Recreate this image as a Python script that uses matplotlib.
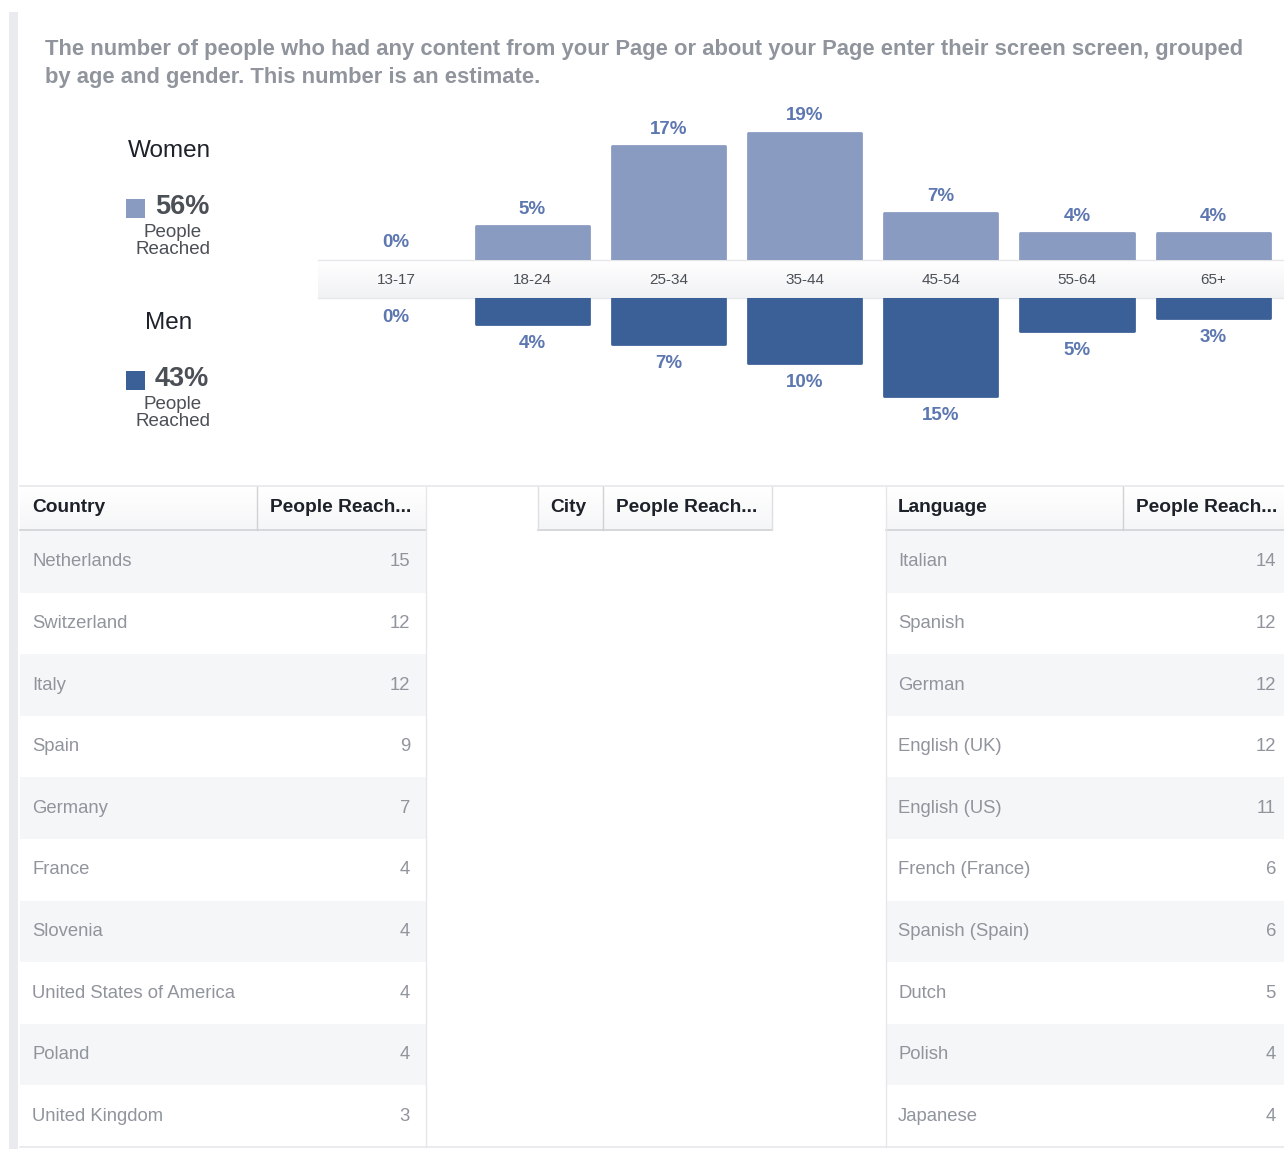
import numpy as np
import matplotlib
matplotlib.use("Agg")
import matplotlib.pyplot as plt
from matplotlib.patches import Rectangle

plt.rcParams['font.family'] = ['Liberation Sans', 'DejaVu Sans']

# data
ages = ['13-17', '18-24', '25-34', '35-44', '45-54', '55-64', '65+']
women = [0, 5, 17, 19, 7, 4, 4]
men = [0, 4, 7, 10, 15, 5, 3]
women_total = 56
men_total = 43

countries = ['Netherlands', 'Switzerland', 'Italy', 'Spain', 'Germany', 'France',
             'Slovenia', 'United States of America', 'Poland', 'United Kingdom']
country_reach = [15, 12, 12, 9, 7, 4, 4, 4, 4, 3]

languages = ['Italian', 'Spanish', 'German', 'English (UK)', 'English (US)',
             'French (France)', 'Spanish (Spain)', 'Dutch', 'Polish', 'Japanese']
language_reach = [14, 12, 12, 12, 11, 6, 6, 5, 4, 4]

W, H = 1284, 1149
C_WOMEN = '#8a9bc2'
C_MEN = '#3b6097'
C_LABEL = '#5d77b0'
C_DARK = '#1d2129'
C_GREY = '#4b4f56'
C_LIGHT = '#90949c'

fig = plt.figure(figsize=(W / 100, H / 100), dpi=100)
bg = fig.add_axes([0, 0, 1, 1])
bg.set_xlim(0, W)
bg.set_ylim(H, 0)
bg.axis('off')

# left grey strip
bg.add_patch(Rectangle((9, 12), 9, H, color='#e9ebee', lw=0))

# description
bg.text(45, 49, "The number of people who had any content from your Page or about your Page enter their screen screen, grouped",
        fontsize=15.8, fontweight='bold', color=C_LIGHT, va='center')
bg.text(45, 77, "by age and gender. This number is an estimate.",
        fontsize=15.8, fontweight='bold', color=C_LIGHT, va='center')

# legend
bg.text(169, 151, 'Women', fontsize=17.5, color=C_DARK, ha='center', va='center')
bg.add_patch(Rectangle((126, 199), 19, 19, color=C_WOMEN, lw=0))
bg.text(155, 207, f'{women_total}%', fontsize=19.5, fontweight='bold', color=C_GREY, va='center')
bg.text(173, 241, 'People\nReached', fontsize=13.5, color=C_GREY, ha='center', va='center', linespacing=1.0)
bg.text(169, 323, 'Men', fontsize=17.5, color=C_DARK, ha='center', va='center')
bg.add_patch(Rectangle((126, 371), 19, 19, color=C_MEN, lw=0))
bg.text(155, 379, f'{men_total}%', fontsize=19.5, fontweight='bold', color=C_GREY, va='center')
bg.text(173, 413, 'People\nReached', fontsize=13.5, color=C_GREY, ha='center', va='center', linespacing=1.0)

# age band
grad = np.linspace(0, 1, 50).reshape(-1, 1)
bg.imshow(grad, extent=(318, W, 298, 260), cmap=matplotlib.colors.LinearSegmentedColormap.from_list(
    'band', ['#ffffff', '#f1f2f4']), aspect='auto', zorder=1)
bg.plot([318, W], [260, 260], color='#e6e7ea', lw=1)
bg.plot([318, W], [298, 298], color='#e6e7ea', lw=1)

# bar axes
px_per = 6.7
x_left, x_right = 318, W
step, c0 = 136.2, 396
xlim = ((x_left - c0) / step, (x_right - c0) / step)
top_ax = fig.add_axes([x_left / W, (H - 260) / H, (x_right - x_left) / W, 165 / H])
bot_ax = fig.add_axes([x_left / W, (H - 470) / H, (x_right - x_left) / W, 172 / H])
for ax in (top_ax, bot_ax):
    ax.set_xlim(*xlim)
    ax.axis('off')
    ax.patch.set_alpha(0)
top_ax.set_ylim(0, 165 / px_per)
bot_ax.set_ylim(172 / 6.5, 0)

x = np.arange(len(ages))
lw_w = [0 if v == 0 else 2 for v in women]
lw_m = [0 if v == 0 else 2 for v in men]
bw = top_ax.bar(x, women, width=0.83, color=C_WOMEN, edgecolor=C_WOMEN, linewidth=lw_w)
bm = bot_ax.bar(x, men, width=0.83, color=C_MEN, edgecolor=C_MEN, linewidth=lw_m)
for p in list(bw) + list(bm):
    p.set_joinstyle('round')

for i, v in enumerate(women):
    top_ax.annotate(f'{v}%', (i, v), xytext=(0, 9), textcoords='offset points',
                    ha='center', va='baseline', fontsize=13.5, fontweight='bold',
                    color=C_LABEL, annotation_clip=False)
for i, v in enumerate(men):
    bot_ax.annotate(f'{v}%', (i, v), xytext=(0, -8), textcoords='offset points',
                    ha='center', va='top', fontsize=13.5, fontweight='bold',
                    color=C_LABEL, annotation_clip=False)
for i, a in enumerate(ages):
    top_ax.text(i, -20 / px_per, a, ha='center', va='center', fontsize=11,
                color=C_GREY, clip_on=False)

# tables
bg.plot([20, W], [486, 486], color='#e6e7ea', lw=1.2)
head_top, head_bot = 487, 530
row_h = (1147 - 531) / 10


def header(x0, x1, xdiv, left, right):
    grad_h = np.linspace(0, 1, 20).reshape(-1, 1)
    bg.imshow(grad_h, extent=(x0, x1, head_bot, head_top), aspect='auto', zorder=1,
              cmap=matplotlib.colors.LinearSegmentedColormap.from_list('hd', ['#ffffff', '#f5f6f7']))
    bg.plot([x0, x1], [head_bot, head_bot], color='#cfd1d5', lw=1.2, zorder=2)
    bg.plot([xdiv, xdiv], [head_top, head_bot], color='#cfd1d5', lw=1, zorder=2)
    bg.text(x0 + 12, 508, left, fontsize=13.8, fontweight='bold', color=C_DARK, va='center', zorder=3)
    bg.text(xdiv + 13, 508, right, fontsize=13.8, fontweight='bold', color=C_DARK, va='center', zorder=3)


def rows(x0, x1, names, vals, xval):
    for i, (n, v) in enumerate(zip(names, vals)):
        y0 = 531 + i * row_h
        if i % 2 == 0:
            bg.add_patch(Rectangle((x0, y0), x1 - x0, row_h, color='#f5f6f7', lw=0, zorder=0))
        bg.text(x0 + 12, y0 + row_h / 2, n, fontsize=13.3, color=C_LIGHT, va='center')
        bg.text(xval, y0 + row_h / 2, str(v), fontsize=13.3, color=C_LIGHT, va='center', ha='right')


header(20, 426, 257, 'Country', 'People Reach...')
rows(20, 426, countries, country_reach, 410)
bg.plot([426, 426], [head_top, 1147], color='#e6e7ea', lw=1)

header(538, 772, 603, 'City', 'People Reach...')
bg.plot([538, 538], [head_top, head_bot], color='#dddfe2', lw=1)
bg.plot([772, 772], [head_top, head_bot], color='#dddfe2', lw=1)

header(886, W, 1123, 'Language', 'People Reach...')
rows(886, W, languages, language_reach, 1276)
bg.plot([886, 886], [head_top, 1147], color='#e6e7ea', lw=1)

bg.plot([20, W], [1147, 1147], color='#e6e7ea', lw=1.2)

bg.set_xlim(0, W)
bg.set_ylim(H, 0)
fig.savefig('out.png', dpi=100)
